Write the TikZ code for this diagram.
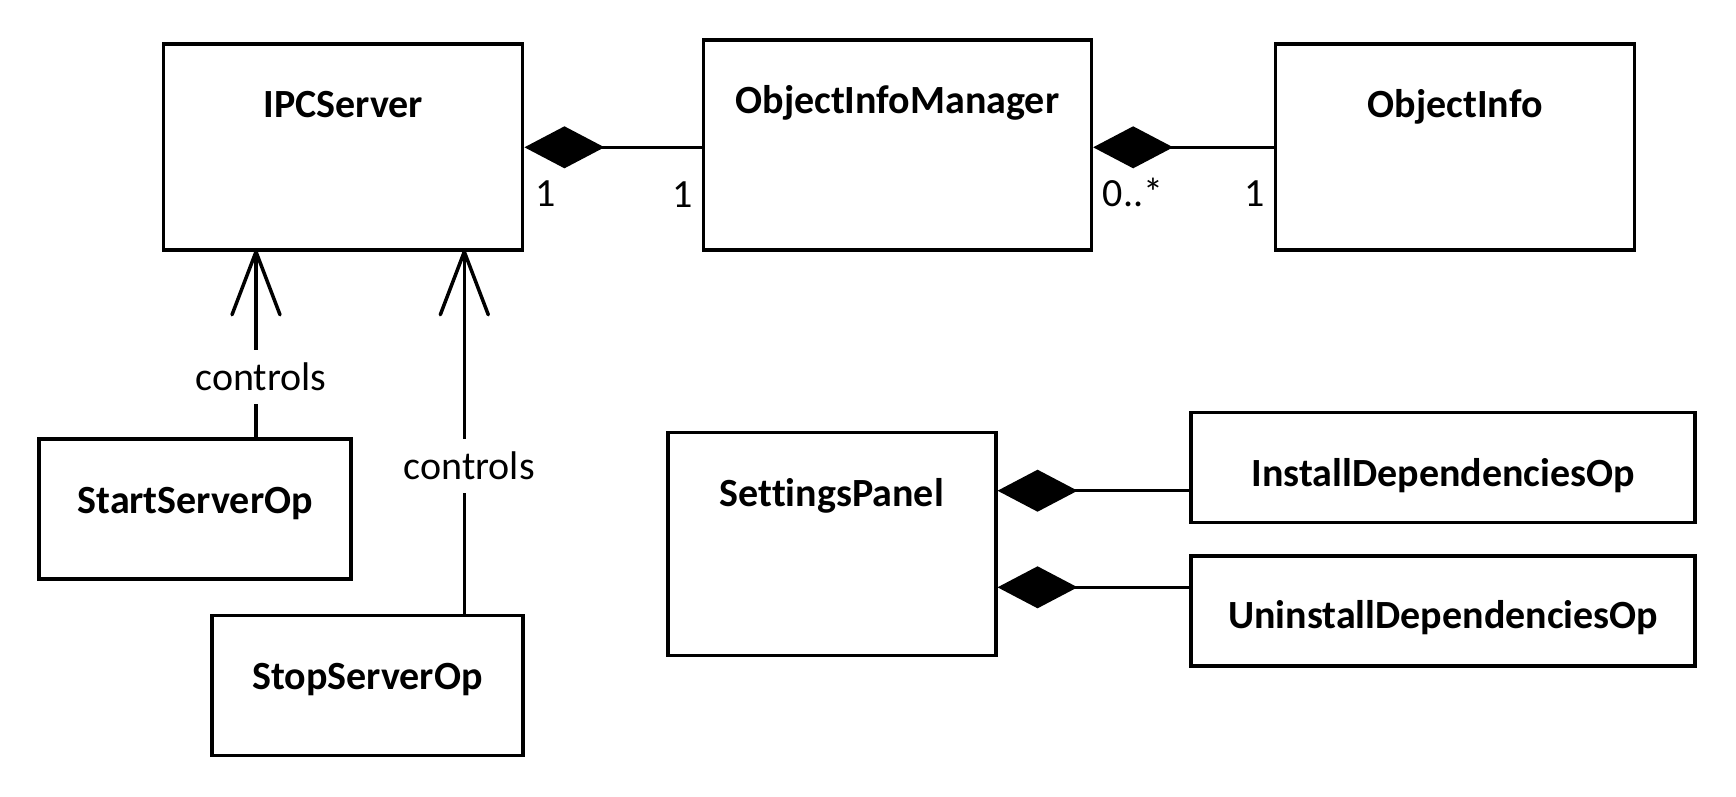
\documentclass[tikz,border=0pt]{standalone}
\usepackage{fontspec}
\setmainfont{Carlito}[Ligatures=NoCommon]
\usetikzlibrary{arrows.meta}
\begin{document}
\begin{tikzpicture}[x=1pt,y=-1pt,
  box/.style={draw, line width=3.5pt, rectangle, inner sep=0pt},
  cname/.style={font=\fontsize{40}{48}\selectfont\bfseries, anchor=base, inner sep=0pt},
  mult/.style={font=\fontsize{40}{48}\selectfont, anchor=base, inner sep=0pt},
  lbl/.style={font=\fontsize{40}{48}\selectfont, fill=white, inner xsep=2pt, inner ysep=14pt, text height=26pt, text depth=0pt},
  conn/.style={line width=3.5pt},
  comp/.style={conn, {Diamond[length=80pt,width=42pt,fill=black]}-},
  arm/.style={line width=3.5pt, line cap=round, line join=round}
]
\fill[white] (0,0) rectangle (1736,796);
\useasboundingbox (0,0) rectangle (1736,796);

% class boxes
\node[box, minimum width=359pt, minimum height=206pt] (ipc) at (343.2,147) {};
\node[box, minimum width=388pt, minimum height=210pt] (oim) at (897.4,145) {};
\node[box, minimum width=359pt, minimum height=206pt] (oi) at (1455.2,147) {};
\node[box, minimum width=312pt, minimum height=140pt] (ss) at (195.2,509.2) {};
\node[box, minimum width=311pt, minimum height=140pt] (sp) at (367.5,685.7) {};
\node[box, minimum width=328pt, minimum height=223pt] (set) at (831.8,544) {};
\node[box, minimum width=504pt, minimum height=110pt] (inst) at (1443.2,467.7) {};
\node[box, minimum width=504pt, minimum height=110pt] (uninst) at (1443.2,611) {};

% class names
\node[cname] (ipct) at ([yshift=-75pt]ipc.north) {IPCServer};
\node[cname] (oimt) at ([yshift=-75pt]oim.north) {ObjectInfoManager};
\node[cname] (oit) at ([yshift=-75pt]oi.north) {ObjectInfo};
\node[cname] (sst) at ([yshift=-76pt]ss.north) {StartServerOp};
\node[cname] (spt) at ([yshift=-76pt]sp.north) {StopServerOp};
\node[cname] (sett) at ([yshift=-76pt]set.north) {SettingsPanel};
\node[cname] (instt) at ([yshift=-75.5pt]inst.north) {InstallDependenciesOp};
\node[cname] (uninstt) at ([yshift=-74pt]uninst.north) {UninstallDependenciesOp};

% compositions
\draw[comp] (ipc.east |- 0,147.3) -- (oim.west |- 0,147.3);
\draw[comp] (oim.east |- 0,147.3) -- (oi.west |- 0,147.3);
\draw[comp] (set.east |- 0,490.7) -- (inst.west |- 0,490.7);
\draw[comp] (set.east |- 0,587.3) -- (uninst.west |- 0,587.3);

% multiplicities
\node[mult] (m1) at (545.7,206.7) {1};
\node[mult] (m2) at (682.4,207.5) {1};
\node[mult] (m3) at (1133,206.7) {0..*};
\node[mult] (m4) at (1255,206.7) {1};

% controls associations
\coordinate (t1) at (ipc.south -| 256,0);
\coordinate (t2) at (ipc.south -| 464.3,0);
\draw[conn] (ss.north -| t1) -- node[lbl, pos=0.324, xshift=5pt] (c1) {controls} (t1);
\draw[conn] (sp.north -| t2) -- node[lbl, pos=0.408, xshift=5pt] (c2) {controls} (t2);
\draw[arm] ([xshift=-24pt,yshift=-63pt]t1) -- (t1) -- ([xshift=24pt,yshift=-63pt]t1);
\draw[arm] ([xshift=-24pt,yshift=-63pt]t2) -- (t2) -- ([xshift=24pt,yshift=-63pt]t2);
\end{tikzpicture}
\end{document}
